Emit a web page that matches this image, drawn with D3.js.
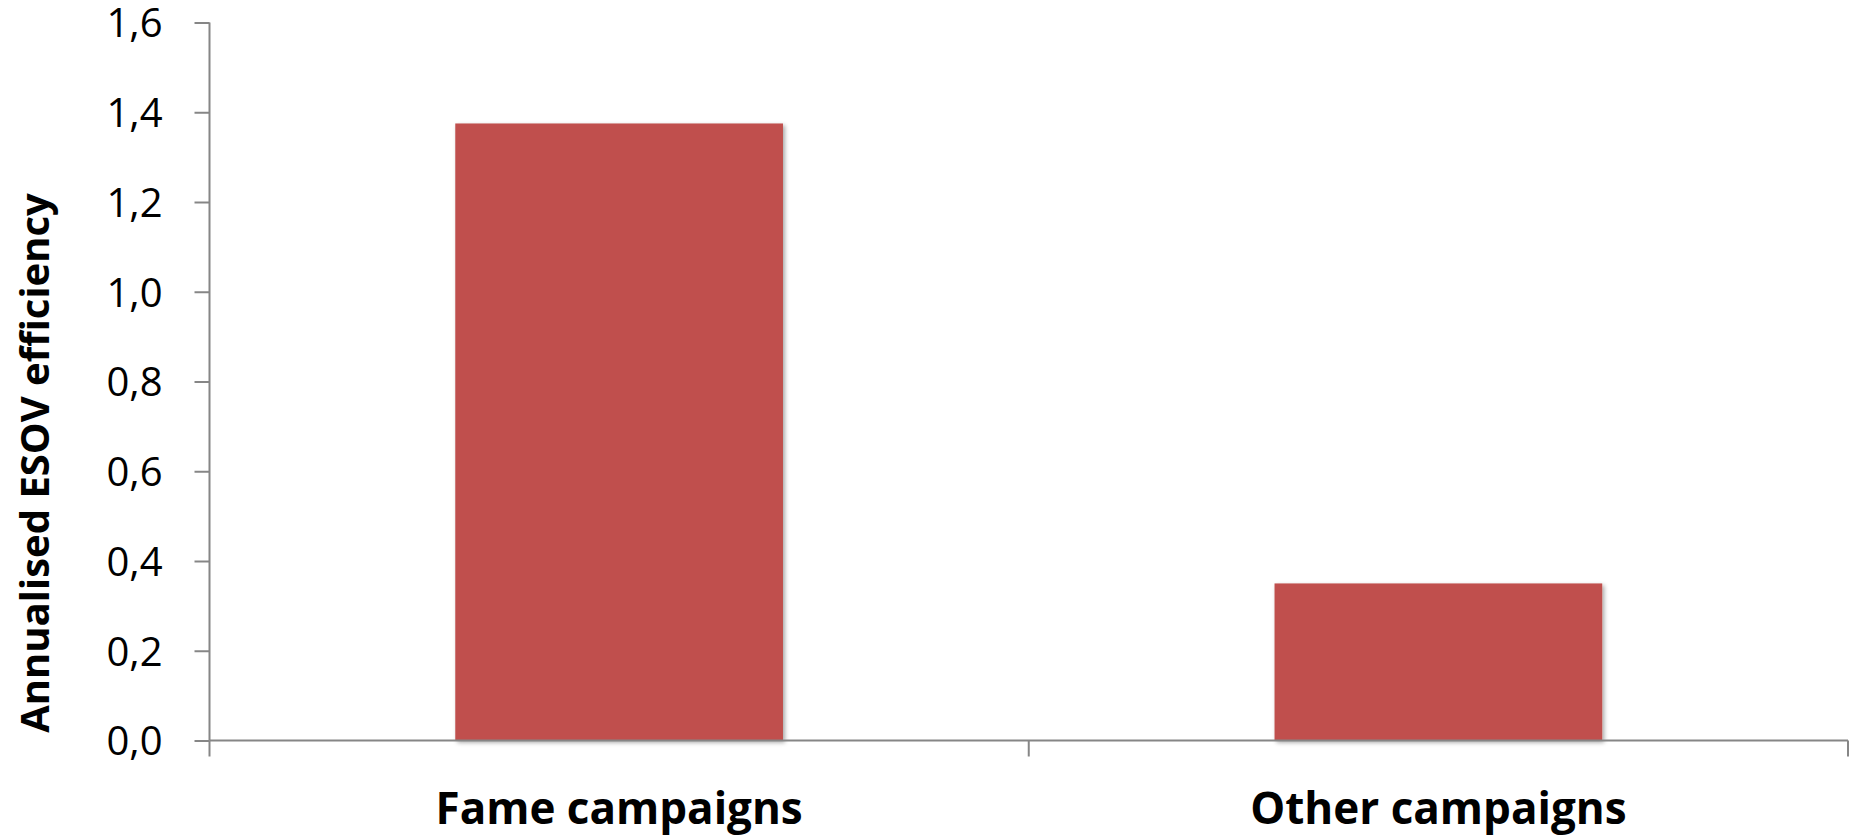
<!DOCTYPE html>
<html>
<head>
<meta charset="utf-8">
<script src="https://cdn.jsdelivr.net/npm/d3@7"></script>
<style>
  html, body { margin: 0; padding: 0; background: #ffffff; }
  svg { display: block; }
  text { font-family: "Open Sans", "Noto Sans", sans-serif; fill: #000; }
</style>
</head>
<body>
<svg id="chart" width="1849" height="836"></svg>
<script>
// Annualised ESOV efficiency by campaign type
const categories = ["Fame campaigns", "Other campaigns"];
const values = [1.375, 0.35];
const yTicks = [0, 0.2, 0.4, 0.6, 0.8, 1.0, 1.2, 1.4, 1.6];
const yTitle = "Annualised ESOV efficiency";

const width = 1849, height = 836;
const margin = { top: 22, right: 1, bottom: 96, left: 209.5 };

const svg = d3.select("#chart");

// soft shadow under the bars
const defs = svg.append("defs");
const f = defs.append("filter").attr("id", "barShadow")
  .attr("x", "-5%").attr("y", "-5%").attr("width", "115%").attr("height", "115%");
f.append("feDropShadow").attr("dx", 2).attr("dy", 2).attr("stdDeviation", 2)
  .attr("flood-color", "#000").attr("flood-opacity", 0.35);

const x = d3.scaleBand()
  .domain(categories)
  .range([margin.left, width - margin.right])
  .paddingInner(0.6)
  .paddingOuter(0.3);

const y = d3.scaleLinear()
  .domain([0, 1.6])
  .range([740.5, margin.top + 0.5]);

const fmt = d => d3.format(".1f")(d).replace(".", ",");

// bars
svg.append("g").selectAll("rect")
  .data(categories.map((c, i) => ({ c, v: values[i] })))
  .join("rect")
  .attr("x", d => x(d.c))
  .attr("width", x.bandwidth())
  .attr("y", d => y(d.v))
  .attr("height", d => y(0) - y(d.v))
  .attr("fill", "#C0504D")
  .attr("filter", "url(#barShadow)");

const axisColor = "#868686";

// y axis
const yAxis = svg.append("g")
  .attr("transform", `translate(${margin.left},0)`)
  .call(d3.axisLeft(y).tickValues(yTicks).tickFormat(fmt).tickSize(15).tickPadding(32));
yAxis.select(".domain").attr("stroke", axisColor).attr("stroke-width", 2)
  .attr("d", `M0,${y(1.6)}V${y(0)}`);
yAxis.selectAll(".tick line").attr("stroke", axisColor).attr("stroke-width", 2);
yAxis.selectAll(".tick text")
  .style("font-family", '"Open Sans", sans-serif')
  .style("font-size", "40px")
  .attr("dy", "0.36em")
  .attr("fill", "#000");

// x axis: baseline with ticks at category boundaries
const xAxisG = svg.append("g").attr("transform", `translate(0,${y(0)})`);
xAxisG.append("line")
  .attr("x1", margin.left).attr("x2", width - margin.right)
  .attr("stroke", axisColor).attr("stroke-width", 2);
const step = x.step();
const start = x(categories[0]) - step * x.paddingOuter();
const boundaries = d3.range(categories.length + 1).map(i => start + i * step);
xAxisG.selectAll("line.tick")
  .data(boundaries)
  .join("line")
  .attr("class", "tick")
  .attr("x1", d => Math.min(d, width - 1)).attr("x2", d => Math.min(d, width - 1))
  .attr("y1", 0).attr("y2", 16)
  .attr("stroke", axisColor).attr("stroke-width", 2);

// category labels
xAxisG.selectAll("text.cat")
  .data(categories)
  .join("text")
  .attr("class", "cat")
  .attr("x", d => x(d) + x.bandwidth() / 2)
  .attr("y", 83)
  .attr("text-anchor", "middle")
  .style("font-size", "44px")
  .style("font-weight", "bold")
  .text(d => d);

// y axis title
svg.append("text")
  .attr("transform", `translate(49,463) rotate(-90)`)
  .attr("text-anchor", "middle")
  .style("font-size", "40px")
  .style("font-weight", "bold")
  .text(yTitle);
</script>
</body>
</html>
